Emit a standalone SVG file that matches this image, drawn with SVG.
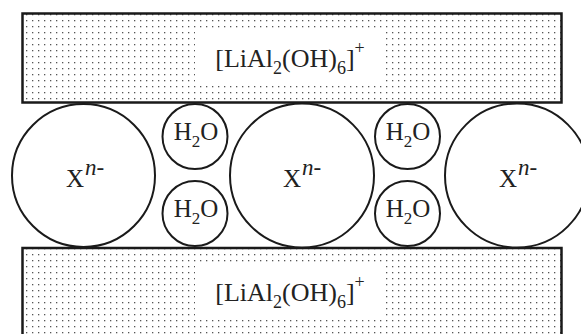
<svg xmlns="http://www.w3.org/2000/svg" width="581" height="334" viewBox="0 0 581 334">
<defs>
<pattern id="dots" x="0" y="0" width="6" height="6" patternUnits="userSpaceOnUse">
<rect x="2" y="2" width="1.3" height="1.3" fill="#555"/>
</pattern>
</defs>
<style>
.layer{fill:url(#dots);stroke:#1a1a1a;stroke-width:2.5}
.box{fill:#fff;stroke:none}
.ion{fill:#fff;stroke:#1a1a1a;stroke-width:2}
text{font-family:"Liberation Serif","Times New Roman",serif;fill:#222}
.lbl{font-size:26px}
.big{font-size:25px}
.w{font-size:25px}
</style>
<rect width="581" height="334" fill="#fff"/>
<g id="top-layer">
<rect class="layer" x="22.5" y="13.5" width="539" height="89"/>
<rect class="box" x="195" y="32" width="191" height="50"/>
<text class="lbl" x="290" y="67" text-anchor="middle">[LiAl<tspan font-size="18" dy="7">2</tspan><tspan dy="-7">(OH)</tspan><tspan font-size="18" dy="7">6</tspan><tspan dy="-7">]</tspan><tspan font-size="18" dy="-13">+</tspan></text>
</g>
<g id="bottom-layer">
<rect class="layer" x="22.5" y="248" width="539" height="100"/>
<rect class="box" x="195" y="266" width="191" height="50"/>
<text class="lbl" x="290" y="301" text-anchor="middle">[LiAl<tspan font-size="18" dy="7">2</tspan><tspan dy="-7">(OH)</tspan><tspan font-size="18" dy="7">6</tspan><tspan dy="-7">]</tspan><tspan font-size="18" dy="-13">+</tspan></text>
</g>
<g id="anion-left">
<circle class="ion" cx="83.5" cy="175.5" r="71.5"/>
<text class="big" x="85" y="187" text-anchor="middle">X<tspan font-style="italic" font-size="23" dx="1" dy="-12">n</tspan><tspan font-size="23">-</tspan></text>
</g>
<g id="anion-middle">
<circle class="ion" cx="302" cy="175.5" r="72"/>
<text class="big" x="302" y="187" text-anchor="middle">X<tspan font-style="italic" font-size="23" dx="1" dy="-12">n</tspan><tspan font-size="23">-</tspan></text>
</g>
<g id="anion-right">
<circle class="ion" cx="517" cy="175.5" r="72"/>
<text class="big" x="518" y="187" text-anchor="middle">X<tspan font-style="italic" font-size="23" dx="1" dy="-12">n</tspan><tspan font-size="23">-</tspan></text>
</g>
<g id="water-1">
<circle class="ion" cx="195" cy="136.5" r="32.5"/>
<text class="w" x="196" y="140" text-anchor="middle">H<tspan font-size="17" dy="7">2</tspan><tspan dy="-7">O</tspan></text>
</g>
<g id="water-2">
<circle class="ion" cx="195" cy="213.5" r="32.5"/>
<text class="w" x="196" y="217" text-anchor="middle">H<tspan font-size="17" dy="7">2</tspan><tspan dy="-7">O</tspan></text>
</g>
<g id="water-3">
<circle class="ion" cx="407.5" cy="136.5" r="32.5"/>
<text class="w" x="408" y="140" text-anchor="middle">H<tspan font-size="17" dy="7">2</tspan><tspan dy="-7">O</tspan></text>
</g>
<g id="water-4">
<circle class="ion" cx="407.5" cy="213.5" r="32.5"/>
<text class="w" x="408" y="217" text-anchor="middle">H<tspan font-size="17" dy="7">2</tspan><tspan dy="-7">O</tspan></text>
</g>
<g id="connectors"/>
</svg>
